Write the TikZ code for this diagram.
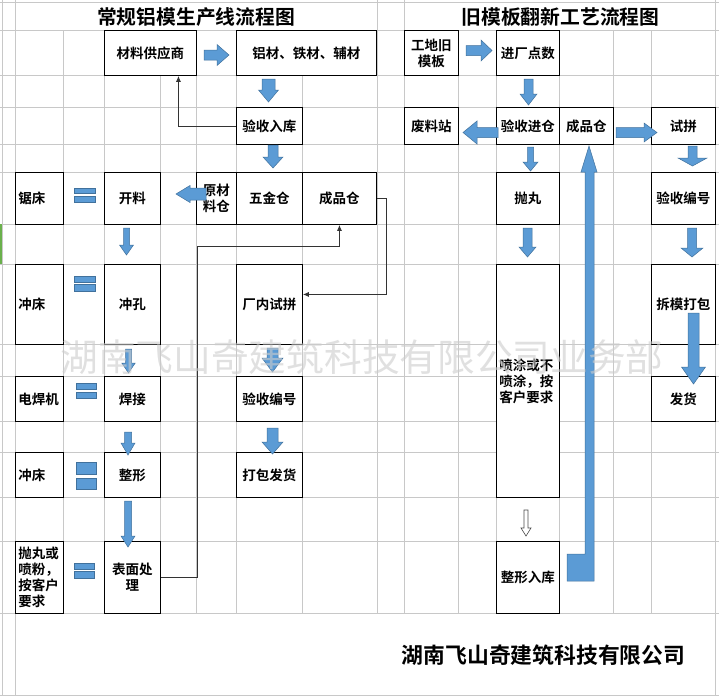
\documentclass[tikz,border=0pt]{standalone}
\usepackage{fontspec}
\newfontfamily\cjk{Noto Sans CJK SC}[BoldFont={Noto Sans CJK SC Bold}]
\usetikzlibrary{arrows.meta}
\definecolor{arrowblue}{HTML}{5B9BD5}
\definecolor{arrowedge}{HTML}{41719C}
\definecolor{gridgray}{HTML}{C8C8C8}
\definecolor{selgreen}{HTML}{6AB04C}
% block arrows: [style]{centre}{tail}{tip}{half shaft}{half head}{head length}
\newcommand\dnar[7][arsty]{\draw[#1] (#2-#5,#3) -- (#2+#5,#3) -- (#2+#5,#4-#7) -- (#2+#6,#4-#7)
    -- (#2,#4) -- (#2-#6,#4-#7) -- (#2-#5,#4-#7) -- cycle;}
\newcommand\rtar[6]{\draw[arsty] (#2,#1-#4) -- (#3-#6,#1-#4) -- (#3-#6,#1-#5) -- (#3,#1)
    -- (#3-#6,#1+#5) -- (#3-#6,#1+#4) -- (#2,#1+#4) -- cycle;}
\newcommand\ltar[6]{\draw[arsty] (#2,#1-#4) -- (#3+#6,#1-#4) -- (#3+#6,#1-#5) -- (#3,#1)
    -- (#3+#6,#1+#5) -- (#3+#6,#1+#4) -- (#2,#1+#4) -- cycle;}
\begin{document}
\begin{tikzpicture}[x=1pt,y=-1pt,
        gridsty/.style={draw=gridgray,line width=0.8pt},
        boxsty/.style={rectangle,draw,fill=white,line width=0.9pt,inner sep=2pt,
            anchor=north west,align=center,
            font=\cjk\bfseries\fontsize{13.5}{16}\selectfont},
        lboxsty/.style={boxsty,align=left,inner xsep=3pt,text width=#1},
        arsty/.style={draw=arrowedge,fill=arrowblue,line width=0.5pt},
        holsty/.style={draw=black!70,fill=white,line width=0.6pt},
        consty/.style={draw=black!80,line width=0.8pt,-{Latex[length=6pt,width=5pt]}},
        ttlsty/.style={font=\cjk\bfseries\fontsize{19.8}{22}\selectfont,inner sep=0pt},
        wmsty/.style={font=\cjk\fontsize{37.7}{40}\selectfont,text=gray!40,
            text opacity=0.6,inner sep=0pt},
    ]
    \useasboundingbox[fill=white] (0,0) rectangle (719,696);
    % sheet grid
    \foreach \y in {2,30,75,107,144,172,224,264,344,376,421,452,497,541,613,695}
        \draw[gridsty] (0,\y) -- (719,\y);
    \foreach \x in {63,104,160,196,236,302,458,496,559,613,651}
        \draw[gridsty] (\x,30) -- (\x,613);
    \foreach \x in {377,404}
        \draw[gridsty] (\x,0) -- (\x,613);
    \foreach \x in {2,15,715}
        \draw[gridsty] (\x,0) -- (\x,696);
    \fill[selgreen] (0,224) rectangle (2,264);

    \node (ttl1) at (196,17) [ttlsty] {常规铝模生产线流程图};
    \node (ttl2) at (560.5,17) [ttlsty] {旧模板翻新工艺流程图};

    % left chart
    \node (clgys) at (104,30) [boxsty,minimum width=92pt,minimum height=45pt] {材料供应商};
    \node (lcfc) at (236,30) [boxsty,minimum width=140pt,minimum height=45pt] {铝材、铁材、辅材};
    \node (ysrk) at (236,107) [boxsty,minimum width=66pt,minimum height=37pt] {验收入库};
    \node (ylc) at (196,172) [boxsty,minimum width=40pt,minimum height=52pt] {原材\\料仓};
    \node (wjc) at (236,172) [boxsty,minimum width=66pt,minimum height=52pt] {五金仓};
    \node (cpc) at (302,172) [boxsty,minimum width=74pt,minimum height=52pt] {成品仓};
    \node (jc) at (15,172) [lboxsty=42pt,minimum height=52pt] {锯床};
    \node (kl) at (104,172) [boxsty,minimum width=56pt,minimum height=52pt] {开料};
    \node (cc1) at (15,264) [lboxsty=42pt,minimum height=80pt] {冲床};
    \node (ck) at (104,264) [boxsty,minimum width=56pt,minimum height=80pt] {冲孔};
    \node (cnsp) at (236,264) [boxsty,minimum width=66pt,minimum height=80pt] {厂内试拼};
    \node (dhj) at (15,376) [lboxsty=42pt,minimum height=45pt] {电焊机};
    \node (hj) at (104,376) [boxsty,minimum width=56pt,minimum height=45pt] {焊接};
    \node (ysbh) at (236,376) [boxsty,minimum width=66pt,minimum height=45pt] {验收编号};
    \node (cc2) at (15,452) [lboxsty=42pt,minimum height=45pt] {冲床};
    \node (zx) at (104,452) [boxsty,minimum width=56pt,minimum height=45pt] {整形};
    \node (dbfh) at (236,452) [boxsty,minimum width=66pt,minimum height=45pt] {打包发货};
    \node (pwpf) at (15,541) [lboxsty=42pt,minimum height=72pt] {抛丸或\\喷粉，\\按客户\\要求};
    \node (bmcl) at (104,541) [boxsty,minimum width=56pt,minimum height=72pt] {表面处\\理};

    % right chart
    \node (gdjmb) at (404,30) [boxsty,minimum width=54pt,minimum height=45pt] {工地旧\\模板};
    \node (jcds) at (496,30) [boxsty,minimum width=63pt,minimum height=45pt] {进厂点数};
    \node (flz) at (404,107) [boxsty,minimum width=54pt,minimum height=37pt] {废料站};
    \node (ysjc) at (496,107) [boxsty,minimum width=63pt,minimum height=37pt] {验收进仓};
    \node (cpc2) at (559,107) [boxsty,minimum width=54pt,minimum height=37pt] {成品仓};
    \node (sp) at (651,107) [boxsty,minimum width=64pt,minimum height=37pt] {试拼};
    \node (pw) at (496,172) [boxsty,minimum width=63pt,minimum height=52pt] {抛丸};
    \node (ysbh2) at (651,172) [boxsty,minimum width=64pt,minimum height=52pt] {验收编号};
    \node (pt) at (496,264) [lboxsty=57pt,minimum height=233pt] {喷涂或不\\喷涂，按\\客户要求};
    \node (cmdb) at (651,264) [boxsty,minimum width=64pt,minimum height=80pt] {拆模打包};
    \node (fh) at (651,376) [boxsty,minimum width=64pt,minimum height=45pt] {发货};
    \node (zxrk) at (496,541) [boxsty,minimum width=63pt,minimum height=72pt] {整形入库};

    % block arrows
    \rtar{55}{204}{229}{5}{10.5}{12}
    \dnar{268.5}{79}{102}{6.5}{10}{12}
    \dnar{273}{145}{168}{5}{10}{11}
    \ltar{194}{206}{176}{6}{8.5}{14}
    \dnar{126.5}{228}{255}{3}{7}{10}
    \dnar{128.5}{349}{373}{3}{6.7}{10}
    \dnar{128}{432}{455}{3.5}{7}{12}
    \dnar{128}{501}{547}{3.5}{7}{11}
    \dnar{272.5}{348}{372}{5.5}{10.5}{14}
    \dnar{272.5}{428}{454}{5.5}{10.5}{12}
    \rtar{50.5}{466}{492}{5}{10.5}{11}
    \dnar{528.5}{79}{105}{4.5}{8.5}{11}
    \ltar{132.5}{498}{463}{5}{11.5}{14}
    \rtar{132.5}{616}{657}{5}{9.5}{13}
    \dnar{530.5}{147}{171}{3}{7.5}{9}
    \dnar{692.5}{146}{166}{4.5}{14.5}{8}
    \dnar{527.5}{228}{257}{4.5}{8.5}{10}
    \dnar{692}{228}{257}{4.5}{11}{9}
    \dnar{693.5}{313}{384}{5.5}{12}{17}
    \dnar[holsty]{526}{510}{536}{2}{5}{8}
    \draw[arsty] (567,554) -- (585,554) -- (585,172) -- (581,172) -- (589,146)
        -- (597,172) -- (594,172) -- (594,581) -- (567,581) -- cycle;

    % equal marks
    \foreach \xa/\xb/\ya/\yb/\yc/\yd in {74/95/188/193/196/202,74/95/276/282/284/291,
            76/96/383/389/392/398,76/96/462/474/478/489,74/94/563/569/571/578}{
        \draw[arsty] (\xa,\ya) rectangle (\xb,\yb);
        \draw[arsty] (\xa,\yc) rectangle (\xb,\yd);
    }

    % thin connectors
    \draw[consty] (ysrk.west) -| ([xshift=28pt]clgys.south);
    \draw[consty] (cpc.east) -- ++(9,0) |- ([yshift=10pt]cnsp.east);
    \coordinate (bend) at (197,246);
    \draw[consty] (bmcl.east) -| (bend) -| (cpc.south);

    \node (wm) at (362,357) [wmsty] {湖南飞山奇建筑科技有限公司业务部};
    \node (gs) at (543.5,655) [ttlsty,font=\cjk\bfseries\fontsize{21.8}{24}\selectfont] {湖南飞山奇建筑科技有限公司};
\end{tikzpicture}
\end{document}
